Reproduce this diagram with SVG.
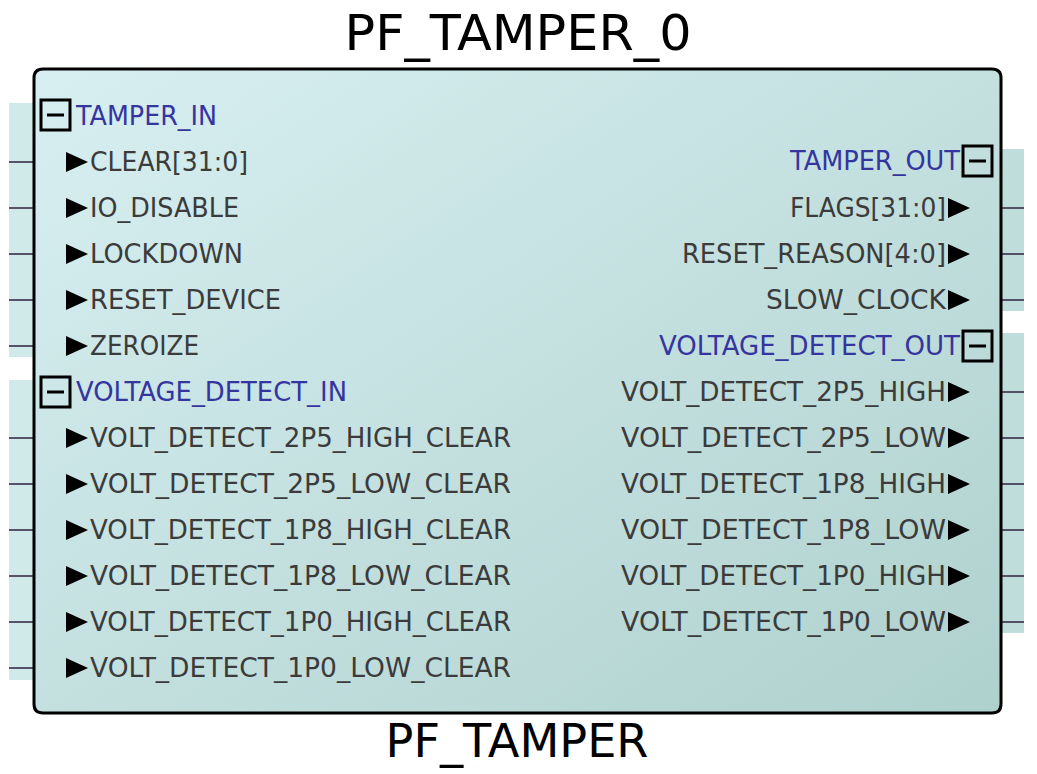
<svg xmlns="http://www.w3.org/2000/svg" width="1037" height="774" viewBox="0 0 1037 774">
<defs>
<linearGradient id="bodyGrad" x1="0" y1="0" x2="1" y2="1">
<stop offset="0" stop-color="#d8eff1"/>
<stop offset="1" stop-color="#afd1ce"/>
</linearGradient>
<style>
.t{font-family:"DejaVu Sans",Verdana,sans-serif;font-size:27px}
.pin{fill:#3b3b3b}
.hdr{fill:#3535a0}
.title{font-family:"DejaVu Sans",Verdana,sans-serif;fill:#000}
.stub{stroke:#3a2d48;stroke-width:1.6}
.tri{fill:#000}
.box{fill:none;stroke:#000;stroke-width:3}
.minus{stroke:#000;stroke-width:3}
.panelL{fill:#d0eaea}
.panelR{fill:#bfdddb}
</style>
</defs>
<rect width="1037" height="774" fill="#ffffff"/>
<text class="title" x="518" y="50" font-size="50" text-anchor="middle" textLength="347" lengthAdjust="spacingAndGlyphs">PF_TAMPER_0</text>
<text class="title" x="517" y="757" font-size="46" text-anchor="middle" textLength="263" lengthAdjust="spacingAndGlyphs">PF_TAMPER</text>

<g id="bus-panels">
<rect class="panelL" x="9" y="103" width="25" height="254"/>
<rect class="panelL" x="9" y="380" width="25" height="300"/>
<rect class="panelR" x="1001" y="149" width="23" height="162"/>
<rect class="panelR" x="1001" y="333" width="23" height="300"/>
</g>

<g id="connectors">
<line class="stub" x1="9" y1="162" x2="34" y2="162"/>
<line class="stub" x1="9" y1="208" x2="34" y2="208"/>
<line class="stub" x1="9" y1="254" x2="34" y2="254"/>
<line class="stub" x1="9" y1="300" x2="34" y2="300"/>
<line class="stub" x1="9" y1="346" x2="34" y2="346"/>
<line class="stub" x1="9" y1="438" x2="34" y2="438"/>
<line class="stub" x1="9" y1="484" x2="34" y2="484"/>
<line class="stub" x1="9" y1="530" x2="34" y2="530"/>
<line class="stub" x1="9" y1="576" x2="34" y2="576"/>
<line class="stub" x1="9" y1="622" x2="34" y2="622"/>
<line class="stub" x1="9" y1="668" x2="34" y2="668"/>
<line class="stub" x1="1001" y1="208" x2="1024" y2="208"/>
<line class="stub" x1="1001" y1="254" x2="1024" y2="254"/>
<line class="stub" x1="1001" y1="300" x2="1024" y2="300"/>
<line class="stub" x1="1001" y1="392" x2="1024" y2="392"/>
<line class="stub" x1="1001" y1="438" x2="1024" y2="438"/>
<line class="stub" x1="1001" y1="484" x2="1024" y2="484"/>
<line class="stub" x1="1001" y1="530" x2="1024" y2="530"/>
<line class="stub" x1="1001" y1="576" x2="1024" y2="576"/>
<line class="stub" x1="1001" y1="622" x2="1024" y2="622"/>
</g>

<g id="PF_TAMPER_0">
<path d="M43,69 H992 Q1001,69 1001,78 V704 Q1001,713 992,713 H43 Q34,713 34,704 V78 Q34,69 43,69 Z" fill="url(#bodyGrad)" stroke="#000" stroke-width="3"/>

<g id="grp-TAMPER_IN">
<rect class="box" x="41" y="100" width="29" height="30"/>
<line class="minus" x1="47" y1="115" x2="64" y2="115"/>
<text class="t hdr" x="76" y="125" textLength="141" lengthAdjust="spacingAndGlyphs">TAMPER_IN</text>
</g>
<g id="pins-left-tamper">
<polygon class="tri" points="66,152 88,162 66,172"/>
<text class="t pin" x="90" y="171" textLength="158" lengthAdjust="spacingAndGlyphs">CLEAR[31:0]</text>
<polygon class="tri" points="66,198 88,208 66,218"/>
<text class="t pin" x="90" y="217" textLength="149" lengthAdjust="spacingAndGlyphs">IO_DISABLE</text>
<polygon class="tri" points="66,244 88,254 66,264"/>
<text class="t pin" x="90" y="263" textLength="153" lengthAdjust="spacingAndGlyphs">LOCKDOWN</text>
<polygon class="tri" points="66,290 88,300 66,310"/>
<text class="t pin" x="90" y="309" textLength="191" lengthAdjust="spacingAndGlyphs">RESET_DEVICE</text>
<polygon class="tri" points="66,336 88,346 66,356"/>
<text class="t pin" x="90" y="355" textLength="109" lengthAdjust="spacingAndGlyphs">ZEROIZE</text>
</g>

<g id="grp-VOLTAGE_DETECT_IN">
<rect class="box" x="41" y="377" width="29" height="30"/>
<line class="minus" x1="47" y1="392" x2="64" y2="392"/>
<text class="t hdr" x="76" y="401" textLength="271" lengthAdjust="spacingAndGlyphs">VOLTAGE_DETECT_IN</text>
</g>
<g id="pins-left-volt">
<polygon class="tri" points="66,428 88,438 66,448"/>
<text class="t pin" x="90" y="447" textLength="421" lengthAdjust="spacingAndGlyphs">VOLT_DETECT_2P5_HIGH_CLEAR</text>
<polygon class="tri" points="66,474 88,484 66,494"/>
<text class="t pin" x="90" y="493" textLength="421" lengthAdjust="spacingAndGlyphs">VOLT_DETECT_2P5_LOW_CLEAR</text>
<polygon class="tri" points="66,520 88,530 66,540"/>
<text class="t pin" x="90" y="539" textLength="421" lengthAdjust="spacingAndGlyphs">VOLT_DETECT_1P8_HIGH_CLEAR</text>
<polygon class="tri" points="66,566 88,576 66,586"/>
<text class="t pin" x="90" y="585" textLength="421" lengthAdjust="spacingAndGlyphs">VOLT_DETECT_1P8_LOW_CLEAR</text>
<polygon class="tri" points="66,612 88,622 66,632"/>
<text class="t pin" x="90" y="631" textLength="421" lengthAdjust="spacingAndGlyphs">VOLT_DETECT_1P0_HIGH_CLEAR</text>
<polygon class="tri" points="66,658 88,668 66,678"/>
<text class="t pin" x="90" y="677" textLength="421" lengthAdjust="spacingAndGlyphs">VOLT_DETECT_1P0_LOW_CLEAR</text>
</g>

<g id="grp-TAMPER_OUT">
<rect class="box" x="963" y="146" width="29" height="30"/>
<line class="minus" x1="969" y1="161" x2="986" y2="161"/>
<text class="t hdr" x="790" y="170" textLength="170" lengthAdjust="spacingAndGlyphs">TAMPER_OUT</text>
</g>
<g id="pins-right-tamper">
<polygon class="tri" points="948,198 970,208 948,218"/>
<text class="t pin" x="790" y="217" textLength="156" lengthAdjust="spacingAndGlyphs">FLAGS[31:0]</text>
<polygon class="tri" points="948,244 970,254 948,264"/>
<text class="t pin" x="682" y="263" textLength="264" lengthAdjust="spacingAndGlyphs">RESET_REASON[4:0]</text>
<polygon class="tri" points="948,290 970,300 948,310"/>
<text class="t pin" x="766" y="309" textLength="180" lengthAdjust="spacingAndGlyphs">SLOW_CLOCK</text>
</g>

<g id="grp-VOLTAGE_DETECT_OUT">
<rect class="box" x="963" y="331" width="29" height="30"/>
<line class="minus" x1="969" y1="346" x2="986" y2="346"/>
<text class="t hdr" x="659" y="355" textLength="301" lengthAdjust="spacingAndGlyphs">VOLTAGE_DETECT_OUT</text>
</g>
<g id="pins-right-volt">
<polygon class="tri" points="948,382 970,392 948,402"/>
<text class="t pin" x="621" y="401" textLength="325" lengthAdjust="spacingAndGlyphs">VOLT_DETECT_2P5_HIGH</text>
<polygon class="tri" points="948,428 970,438 948,448"/>
<text class="t pin" x="621" y="447" textLength="325" lengthAdjust="spacingAndGlyphs">VOLT_DETECT_2P5_LOW</text>
<polygon class="tri" points="948,474 970,484 948,494"/>
<text class="t pin" x="621" y="493" textLength="325" lengthAdjust="spacingAndGlyphs">VOLT_DETECT_1P8_HIGH</text>
<polygon class="tri" points="948,520 970,530 948,540"/>
<text class="t pin" x="621" y="539" textLength="325" lengthAdjust="spacingAndGlyphs">VOLT_DETECT_1P8_LOW</text>
<polygon class="tri" points="948,566 970,576 948,586"/>
<text class="t pin" x="621" y="585" textLength="325" lengthAdjust="spacingAndGlyphs">VOLT_DETECT_1P0_HIGH</text>
<polygon class="tri" points="948,612 970,622 948,632"/>
<text class="t pin" x="621" y="631" textLength="325" lengthAdjust="spacingAndGlyphs">VOLT_DETECT_1P0_LOW</text>
</g>
</g>
</svg>
